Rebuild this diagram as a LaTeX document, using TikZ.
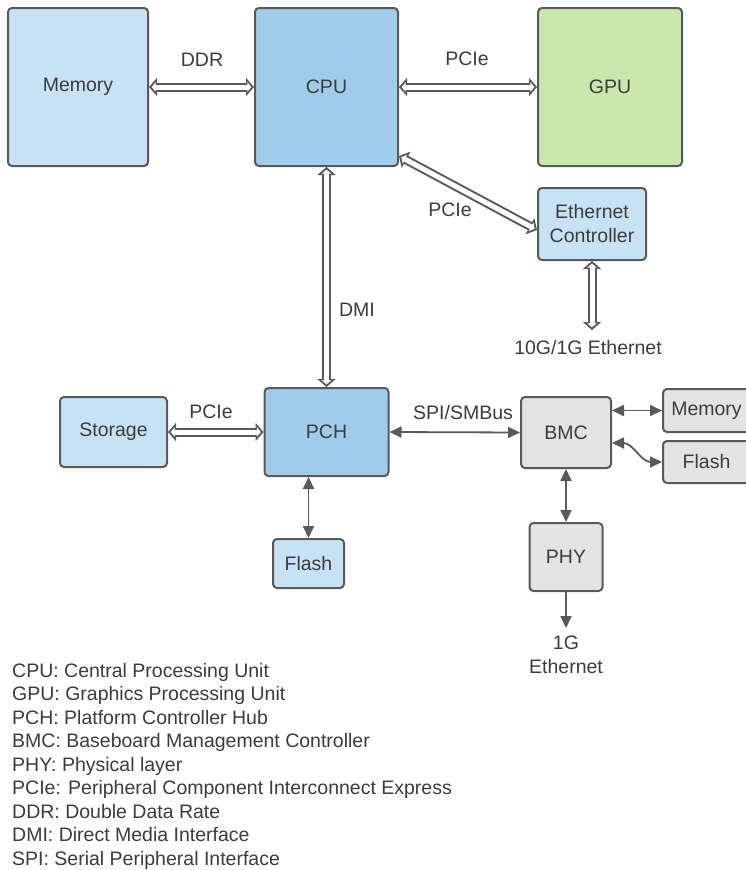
\documentclass[tikz,border=0pt]{standalone}
\usepackage{fontspec}
\setmainfont{Liberation Sans}
\usetikzlibrary{arrows.meta,calc}
\definecolor{lightblue}{HTML}{C6E2F4}
\definecolor{midblue}{HTML}{9FCDE9}
\definecolor{lightgreen}{HTML}{C9E7AD}
\definecolor{lightgray}{HTML}{E3E3E3}
\definecolor{bordergray}{HTML}{595959}
\definecolor{txt}{HTML}{3C3C3C}
\newcommand{\fsz}{\fontsize{19.5}{24}\selectfont}
\begin{document}
\begin{tikzpicture}[x=1pt,y=-1pt,
  box/.style={draw=bordergray, line width=2pt, rounded corners=4pt, text=txt, font=\fsz, inner sep=0pt, align=center},
  lbl/.style={text=txt, font=\fsz, inner sep=0pt, align=center},
  dbl/.style={draw=bordergray, line width=9pt,
     {Triangle[length=8pt,width=18pt]}-{Triangle[length=8pt,width=18pt]},
     postaction={draw=white, line width=5pt, shorten <=2.7pt, shorten >=2.7pt,
       {Triangle[length=4pt,width=9.5pt]}-{Triangle[length=4pt,width=9.5pt]}}},
  sgl/.style={draw=bordergray, line width=1.8pt, {Triangle[length=12pt,width=11pt]}-{Triangle[length=12pt,width=11pt]}},
  sglone/.style={draw=bordergray, line width=1.8pt, -{Triangle[length=12pt,width=11pt]}}
]
\useasboundingbox (0,0) rectangle (746,870);
\fill[white] (0,0) rectangle (746,870);

% boxes
\node[box, fill=lightblue, minimum width=140pt, minimum height=158pt] (mem) at (78,87) {Memory};
\node[box, fill=midblue, minimum width=143pt, minimum height=158pt] (cpu) at (326.5,87) {CPU};
\node[box, fill=lightgreen, minimum width=144pt, minimum height=158pt] (gpu) at (610,87) {GPU};
\node[box, fill=lightblue, minimum width=108pt, minimum height=72pt] (eth) at (592,224) {Ethernet\\Controller};
\node[box, fill=midblue, minimum width=124pt, minimum height=88pt] (pch) at (326.5,432) {PCH};
\node[box, fill=lightblue, minimum width=107pt, minimum height=70pt] (sto) at (113.5,432) {Storage};
\node[box, fill=lightblue, minimum width=71pt, minimum height=49pt] (flaone) at (308.5,563.5) {Flash};
\node[box, fill=lightgray, minimum width=90pt, minimum height=71pt] (bmc) at (566,432.5) {BMC};
\node[box, fill=lightgray, minimum width=87pt, minimum height=43pt] (memtwo) at (706.5,410.5) {Memory};
\node[box, fill=lightgray, minimum width=87pt, minimum height=42pt] (flatwo) at (706.5,462) {Flash};
\node[box, fill=lightgray, minimum width=73pt, minimum height=68pt] (phy) at (566,557) {PHY};

% free-text endpoints
\node[lbl, anchor=north] (tenge) at (588,340) {10G/1G Ethernet};
\node[lbl, anchor=north] (onege) at (566,636) {1G\\Ethernet};

% double (hollow) connectors
\draw[dbl] (mem.east) -- (cpu.west);
\draw[dbl] (cpu.east) -- (gpu.west);
\draw[dbl] (cpu.south) -- (cpu.south |- pch.north);
\draw[dbl] ([yshift=11pt]cpu.south east) -- ([yshift=-6pt]eth.west);
\draw[dbl] (sto.east) -- (pch.west);
\draw[dbl] (eth.south) -- ([yshift=10pt]eth.south |- tenge.north);

% single connectors
\draw[sgl] (pch.east) -- (bmc.west);
\draw[sgl] (bmc.east |- memtwo.west) -- (memtwo.west);
\draw[sgl] ([yshift=-10.5pt]bmc.east) to[out=0,in=180] (flatwo.west);
\draw[sgl] (flaone.north |- pch.south) -- (flaone.north);
\draw[sgl] (bmc.south) -- (phy.north);
\draw[sglone] (phy.south) -- ([yshift=8pt]onege.north);

% connector labels
\node[lbl] (lddr) at (202,60) {DDR};
\node[lbl] (lpcieg) at (467,59) {PCIe};
\node[lbl] (lpciee) at (450,210) {PCIe};
\node[lbl] (ldmi) at (357,310) {DMI};
\node[lbl] (lpcies) at (211,412) {PCIe};
\node[lbl] (lspi) at (463,413) {SPI/SMBus};

% legend
\foreach \t [count=\i from 0] in {
  CPU: Central Processing Unit,
  GPU: Graphics Processing Unit,
  PCH: Platform Controller Hub,
  BMC: Baseboard Management Controller,
  PHY: Physical layer,
  PCIe: Peripheral Component Interconnect Express,
  DDR: Double Data Rate,
  DMI: Direct Media Interface,
  SPI: Serial Peripheral Interface}
  \node[lbl, anchor=base west] (leg\i) at (12,677+23.5*\i) {\t};
\end{tikzpicture}
\end{document}
